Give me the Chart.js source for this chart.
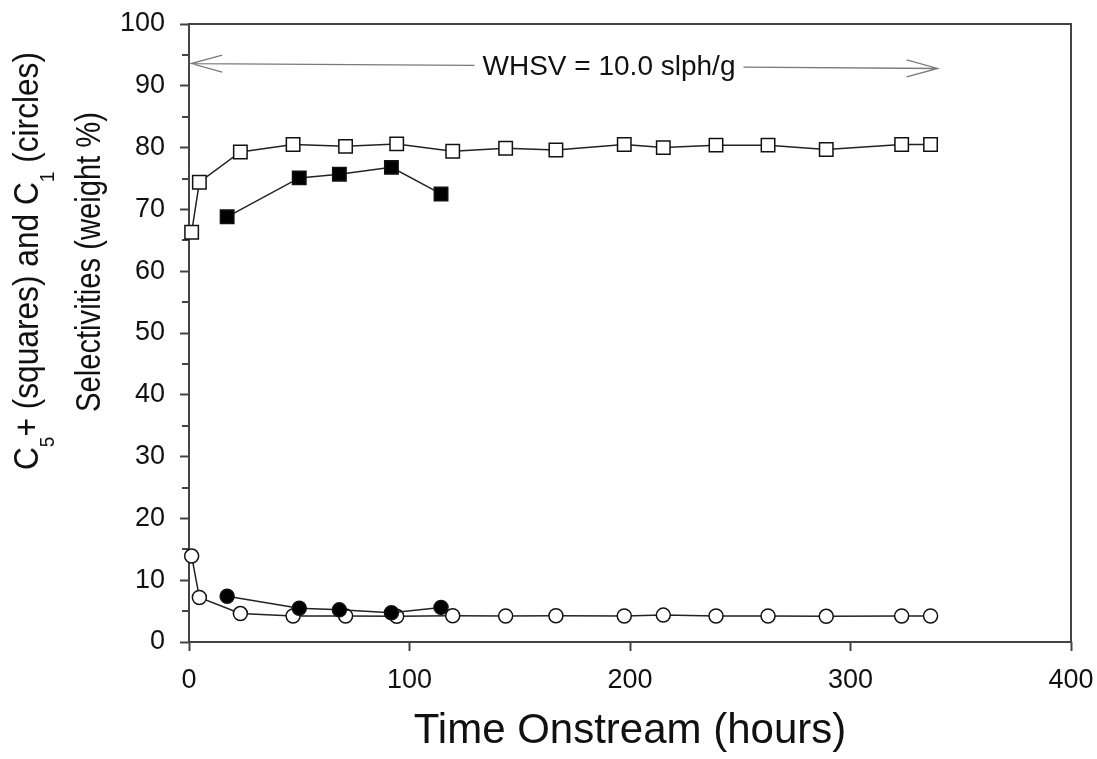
<!DOCTYPE html>
<html>
<head>
<meta charset="utf-8">
<script src="https://cdn.jsdelivr.net/npm/chart.js@4.4.1/dist/chart.umd.min.js"></script>
<style>
  html, body { margin: 0; padding: 0; background: #fff; }
  #wrap { width: 1097px; height: 759px; }
</style>
</head>
<body>
<div id="wrap"><canvas id="chart" width="1097" height="759"></canvas></div>
<script>
// time onstream (hours) for the long run (open symbols) and the short run (filled symbols)
const timeOpen = [1.2, 4.7, 23.3, 47.2, 71, 94.2, 119.6, 143.6, 166.4, 197.4, 215.1, 239, 262.6, 289, 323.2, 336.3];
const timeFilled = [17.3, 50, 68.2, 91.8, 114.3];

// C5+ selectivity (squares), weight %
const c5Open = [66.3, 74.4, 79.3, 80.5, 80.2, 80.6, 79.4, 79.9, 79.6, 80.5, 80.0, 80.4, 80.4, 79.7, 80.5, 80.5];
const c5Filled = [68.8, 75.1, 75.7, 76.8, 72.5];

// C1 selectivity (circles), weight %
const c1Open = [13.9, 7.2, 4.6, 4.2, 4.2, 4.15, 4.25, 4.2, 4.25, 4.2, 4.35, 4.2, 4.2, 4.15, 4.2, 4.2];
const c1Filled = [7.4, 5.45, 5.2, 4.75, 5.6];

// axis ticks
const xTicks = [0, 100, 200, 300, 400];
const yTicks = [0, 10, 20, 30, 40, 50, 60, 70, 80, 90, 100];
const yMinorTicks = [5, 15, 25, 35, 45, 55, 65, 75, 85, 95];

// WHSV arrow annotation (start/end in data units)
const whsvText = 'WHSV = 10.0 slph/g';
const whsvStart = [1, 93.6];
const whsvEnd = [339.5, 92.8];

const pts = (xs, ys) => xs.map((t, i) => ({ x: t, y: ys[i] }));
const FONT = "'Liberation Sans', Arial, sans-serif";

function serie(label, data, style, filled, radius) {
  return {
    label, data,
    showLine: true,
    borderColor: '#222',
    borderWidth: 1.5,
    tension: 0,
    pointStyle: style,
    pointRadius: radius,
    pointBorderWidth: 1.5,
    pointBorderColor: '#111',
    pointBackgroundColor: filled ? '#000' : '#fff',
    clip: false
  };
}

// box, minor ticks, arrow and y title drawn by hand
const extras = {
  id: 'extras',
  beforeDatasetsDraw(chart) {
    const { ctx, chartArea: a, scales: { x, y } } = chart;
    ctx.save();
    ctx.strokeStyle = '#444';
    ctx.lineWidth = 2;
    ctx.strokeRect(a.left, a.top, a.right - a.left, a.bottom - a.top);
    ctx.beginPath();
    yMinorTicks.forEach(v => {
      const py = Math.round(y.getPixelForValue(v));
      ctx.moveTo(a.left - 7, py); ctx.lineTo(a.left, py);
    });
    ctx.stroke();

    // double arrow with the label in a gap
    const x1 = x.getPixelForValue(whsvStart[0]), y1 = y.getPixelForValue(whsvStart[1]);
    const x2 = x.getPixelForValue(whsvEnd[0]), y2 = y.getPixelForValue(whsvEnd[1]);
    ctx.font = '28px ' + FONT;
    const tw = ctx.measureText(whsvText).width;
    const cx = 609, gap = tw / 2 + 8;
    const yAt = px => y1 + (y2 - y1) * (px - x1) / (x2 - x1);
    ctx.strokeStyle = '#7a7a7a';
    ctx.lineWidth = 1.3;
    ctx.beginPath();
    ctx.moveTo(x1, y1); ctx.lineTo(cx - gap, yAt(cx - gap));
    ctx.moveTo(cx + gap, yAt(cx + gap)); ctx.lineTo(x2, y2);
    ctx.moveTo(x1 + 31, y1 - 8.5); ctx.lineTo(x1, y1); ctx.lineTo(x1 + 31, y1 + 8.5);
    ctx.moveTo(x2 - 31, y2 - 8.5); ctx.lineTo(x2, y2); ctx.lineTo(x2 - 31, y2 + 8.5);
    ctx.stroke();
    ctx.fillStyle = '#111';
    ctx.textAlign = 'center';
    ctx.textBaseline = 'middle';
    ctx.fillText(whsvText, cx, yAt(cx) + 1);

    // y axis title, two rotated lines with subscripts, squeezed along the text
    const line1 = [['C', 0], ['5', 1], ['+ (squares) and C', 0], ['1', 1], [' (circles)', 0]];
    const line2 = [['Selectivities (weight %)', 0]];
    const drawLine = (parts, bx, cy, size, len) => {
      const sub = size * 0.6;
      let w = 0;
      parts.forEach(([t, s]) => { ctx.font = (s ? sub : size) + 'px ' + FONT; w += ctx.measureText(t).width; });
      ctx.save();
      ctx.translate(bx, cy);
      ctx.rotate(-Math.PI / 2);
      ctx.scale(len / w, 1);
      ctx.textAlign = 'left';
      ctx.textBaseline = 'alphabetic';
      let p = -w / 2;
      parts.forEach(([t, s]) => {
        ctx.font = (s ? sub : size) + 'px ' + FONT;
        ctx.fillText(t, p, s ? size * 0.45 : 0);
        p += ctx.measureText(t).width;
      });
      ctx.restore();
    };
    ctx.fillStyle = '#111';
    drawLine(line1, 38, 261, 35, 418);
    drawLine(line2, 100, 262, 35, 300);
    ctx.restore();
  }
};

new Chart(document.getElementById('chart'), {
  type: 'scatter',
  data: {
    datasets: [
      serie('C1 filled', pts(timeFilled, c1Filled), 'circle', true, 7),
      serie('C5+ filled', pts(timeFilled, c5Filled), 'rect', true, 9.5),
      serie('C1 open', pts(timeOpen, c1Open), 'circle', false, 7),
      serie('C5+ open', pts(timeOpen, c5Open), 'rect', false, 9.5)
    ]
  },
  options: {
    responsive: false,
    animation: false,
    layout: { padding: { left: 0, top: 24, right: 26, bottom: 0 } },
    plugins: { legend: { display: false }, tooltip: { enabled: false } },
    scales: {
      x: {
        type: 'linear', min: 0, max: 400,
        afterBuildTicks: s => { s.ticks = xTicks.map(v => ({ value: v })); },
        afterFit: s => { s.height = 117; s.paddingLeft = 0; s.paddingRight = 0; },
        grid: { drawOnChartArea: false, drawTicks: true, tickLength: 9, tickColor: '#444', tickWidth: 2 },
        border: { display: false },
        ticks: { color: '#111', font: { family: FONT, size: 27 }, padding: 13, maxRotation: 0 },
        title: { display: true, text: 'Time Onstream (hours)', color: '#111',
                 font: { family: FONT, size: 42 }, padding: { top: 0, bottom: 2 } }
      },
      y: {
        type: 'linear', min: 0, max: 100,
        afterBuildTicks: s => { s.ticks = yTicks.map(v => ({ value: v })); },
        afterFit: s => { s.width = 189; s.paddingTop = 0; s.paddingBottom = 0; },
        grid: { drawOnChartArea: false, drawTicks: true, tickLength: 9, tickColor: '#444', tickWidth: 2 },
        border: { display: false },
        ticks: { color: '#111', font: { family: FONT, size: 27 }, padding: 15 }
      }
    }
  },
  plugins: [extras]
});
</script>
</body>
</html>
